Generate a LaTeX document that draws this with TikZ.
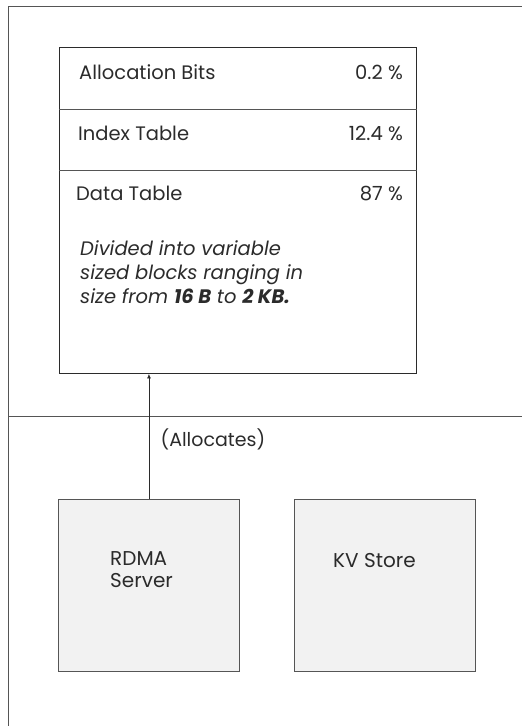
\documentclass[tikz,border=0pt]{standalone}
\usepackage{fontspec}
\setmainfont{Poppins}
\usetikzlibrary{arrows.meta,positioning}
\definecolor{InkGray}{HTML}{2B2B2B}
\definecolor{EdgeGray}{HTML}{555555}
\definecolor{FillGray}{HTML}{F2F2F2}
\tikzset{
  membox/.style={draw=InkGray, line width=0.9pt, minimum width=357pt, minimum height=326pt, inner sep=0pt},
  hostbox/.style={draw=EdgeGray, fill=FillGray, line width=0.9pt, minimum width=181pt, minimum height=172pt, inner sep=0pt},
  rowname/.style={font=\fontsize{19.5}{22}\selectfont, text=InkGray, anchor=base west, inner sep=0pt},
  rowshare/.style={font=\fontsize{19.5}{22}\selectfont, text=InkGray, anchor=base east, inner sep=0pt},
  note/.style={font=\itshape\fontsize{19.5}{24}\selectfont, text=InkGray, anchor=base west, align=left, inner sep=0pt},
  hostname/.style={font=\fontsize{20}{22}\selectfont, text=InkGray, anchor=base west, align=left, inner sep=0pt},
  divider/.style={draw=EdgeGray, line width=0.7pt},
  arrow/.style={-{Latex[length=4.5pt, width=4pt]}, line width=0.7pt, draw=InkGray}
}
\begin{document}
\begin{tikzpicture}[x=1pt, y=-1pt]
\useasboundingbox (0,0) rectangle (522,726);

% outer frame and tier line
\draw[divider] (522,6) -- (8,6) -- (8,726);
\draw[divider] (8,416) -- (522,416);

% memory region
\node[membox, anchor=north west] (mem) at (59,47) {};
\draw[divider] ([yshift=-62pt]mem.north west) -- ([yshift=-62pt]mem.north east);
\draw[divider] ([yshift=-123pt]mem.north west) -- ([yshift=-123pt]mem.north east);

\node[rowname] (bits) at (79,79) {Allocation Bits};
\node[rowshare] (bitsp) at (403,79) {0.2 \%};
\node[rowname] (index) at (78,140) {Index Table};
\node[rowshare] (indexp) at (403,140) {12.4 \%};
\node[rowname] (data) at (76,200) {Data Table};
\node[rowshare] (datap) at (403,200) {87 \%};
\node[note] (blocks) at (80,303)
    {Divided into variable\\
     sized blocks ranging in\\
     size from \textbf{16 B} to \textbf{2 KB.}};

% hosts
\node[hostbox, anchor=north west] (rdma) at (58,499) {};
\node[hostbox, anchor=north west] (kv) at (294,499) {};
\node[hostname] (rdmat) at ([xshift=52pt, yshift=-88pt]rdma.north west)
    {RDMA\\Server};
\node[hostname] (kvt) at ([xshift=39pt, yshift=-68pt]kv.north west)
    {KV Store};

\draw[arrow] (rdma.north) -- (rdma.north |- mem.south)
    node[pos=0.5, anchor=base west, font=\fontsize{19}{22}\selectfont, text=InkGray, xshift=8pt, yshift=-10pt] (alloc) {(Allocates)};
\end{tikzpicture}
\end{document}
